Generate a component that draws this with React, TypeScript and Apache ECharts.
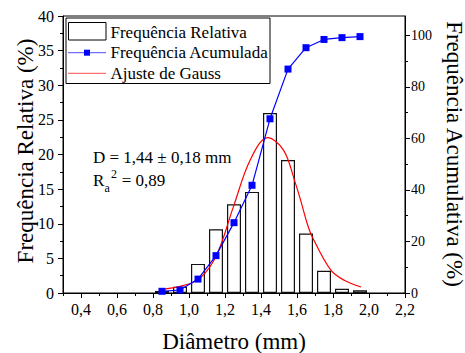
import React, { useEffect, useRef } from "react";
import * as echarts from "echarts";

// ---- data ----
const binCenters = [0.85, 0.95, 1.05, 1.15, 1.25, 1.35, 1.45, 1.55, 1.65, 1.75, 1.85, 1.95];
const relFreq = [0.3, 0.9, 4.2, 9.2, 12.8, 14.6, 26.0, 19.2, 8.6, 3.2, 0.6, 0.4];
const cumFreq = [0.66, 1.17, 5.4, 14.5, 27.3, 41.8, 67.6, 86.9, 95.2, 98.4, 99.1, 99.5];
const gaussX = [0.854, 0.966, 1.059, 1.153, 1.246, 1.34, 1.437, 1.526, 1.592, 1.62, 1.657, 1.685, 1.788, 1.862, 1.956];
const gaussY = [0.53, 1.07, 2.08, 5.45, 12.4, 19.2, 22.45, 20.6, 15.8, 13.4, 10.0, 8.1, 3.3, 1.84, 0.87];
const xMajorTicks = [0.4, 0.6, 0.8, 1.0, 1.2, 1.4, 1.6, 1.8, 2.0, 2.2];
const xMinorTicks = [0.3, 0.5, 0.7, 0.9, 1.1, 1.3, 1.5, 1.7, 1.9, 2.1];
const rightMajorTicks = [0, 20, 40, 60, 80, 100];
const rightMinorTicks = [10, 30, 50, 70, 90];

const legendNames = ["Frequência Relativa", "Frequência Acumulada", "Ajuste de Gauss"];
const FONT = "'Liberation Serif', 'Times New Roman', serif";

export default function App() {
  const ref = useRef<HTMLDivElement>(null);
  useEffect(() => {
    if (!ref.current) return;
    const chart = echarts.init(ref.current, undefined, { renderer: "svg" });
    const axisCommon = {
      axisLine: { show: true, lineStyle: { color: "#000", width: 1 } },
      axisTick: { show: true, inside: false, length: 5, lineStyle: { color: "#000" } },
      splitLine: { show: false },
    };
    const option: any = {
      animation: false,
      backgroundColor: "#fff",
      textStyle: { fontFamily: FONT },
      grid: {
        left: 63, right: 60, top: 16, bottom: 60,
        show: true, borderColor: "#000", borderWidth: 1, backgroundColor: "transparent",
      },
      xAxis: [
        {
          type: "value", min: 0.3, max: 2.2, position: "bottom",
          ...axisCommon,
          axisTick: { show: true, length: 5, lineStyle: { color: "#000" }, customValues: xMajorTicks },
          axisLabel: {
            customValues: xMajorTicks, margin: 8, color: "#000", fontSize: 16, fontFamily: FONT,
            formatter: (v: number) => v.toFixed(1).replace(".", ","),
          },
        },
        {
          type: "value", min: 0.3, max: 2.2, position: "bottom",
          axisLine: { show: false },
          axisTick: { show: true, length: 3, lineStyle: { color: "#000" }, customValues: xMinorTicks },
          axisLabel: { show: false },
          splitLine: { show: false },
        },
      ],
      yAxis: [
        {
          type: "value", min: 0, max: 40, interval: 5, position: "left",
          ...axisCommon,
          minorTick: { show: true, splitNumber: 2, length: 3, lineStyle: { color: "#000" } },
          axisLabel: { margin: 9, color: "#000", fontSize: 16, fontFamily: FONT },
        },
        {
          type: "value", min: 0, max: 107.5, position: "right",
          ...axisCommon,
          axisTick: { show: true, length: 5, lineStyle: { color: "#000" }, customValues: rightMajorTicks },
          axisLabel: { customValues: rightMajorTicks, margin: 6, color: "#000", fontSize: 14, fontFamily: FONT },
        },
        {
          type: "value", min: 0, max: 107.5, position: "right",
          axisLine: { show: false },
          axisTick: { show: true, length: 3, lineStyle: { color: "#000" }, customValues: rightMinorTicks },
          axisLabel: { show: false },
          splitLine: { show: false },
        },
      ],
      series: [
        {
          name: legendNames[0], type: "bar", xAxisIndex: 0, yAxisIndex: 0,
          barWidth: 14,
          data: binCenters.map((x, i) => [x, relFreq[i]]),
          itemStyle: { color: "rgba(255,255,255,0)", borderColor: "#111", borderWidth: 1.2 },
        },
        {
          name: legendNames[2], type: "line", xAxisIndex: 0, yAxisIndex: 0,
          smooth: 0.35, symbol: "none",
          data: gaussX.map((x, i) => [x, gaussY[i]]),
          lineStyle: { color: "#ff0000", width: 1.2 },
          itemStyle: { color: "#ff0000" },
        },
        {
          name: legendNames[1], type: "line", xAxisIndex: 0, yAxisIndex: 1,
          symbol: "rect", symbolSize: 7,
          data: binCenters.map((x, i) => [x, cumFreq[i]]),
          lineStyle: { color: "#0000ff", width: 1.2 },
          itemStyle: { color: "#0000ff" },
        },
      ],
      graphic: [
        // legend box
        { type: "rect", shape: { x: 66, y: 18, width: 204, height: 65.5 }, style: { fill: "#fff", stroke: "#000", lineWidth: 1 }, z: 10 },
        { type: "rect", shape: { x: 68.5, y: 22.5, width: 37.5, height: 17.5 }, style: { fill: "#fff", stroke: "#000", lineWidth: 1 }, z: 11 },
        { type: "line", shape: { x1: 68, y1: 52.7, x2: 106, y2: 52.7 }, style: { stroke: "#6f6fff", lineWidth: 1.3 }, z: 11 },
        { type: "rect", shape: { x: 84, y: 49.7, width: 6, height: 6 }, style: { fill: "#0000ff" }, z: 12 },
        { type: "line", shape: { x1: 68, y1: 73.3, x2: 106, y2: 73.3 }, style: { stroke: "#ff7070", lineWidth: 1.3 }, z: 11 },
        { type: "text", x: 110.5, y: 32, style: { text: legendNames[0], font: `17px ${FONT}`, fill: "#000", verticalAlign: "middle" }, z: 12 },
        { type: "text", x: 110.5, y: 52.5, style: { text: legendNames[1], font: `17px ${FONT}`, fill: "#000", verticalAlign: "middle" }, z: 12 },
        { type: "text", x: 110.5, y: 73, style: { text: legendNames[2], font: `17px ${FONT}`, fill: "#000", verticalAlign: "middle" }, z: 12 },
        // annotation
        { type: "text", x: 93, y: 157.5, style: { text: "D = 1,44 ± 0,18 mm", font: `17px ${FONT}`, fill: "#000", verticalAlign: "middle" }, z: 12 },
        { type: "text", x: 93, y: 180.5, style: { text: "R", font: `17px ${FONT}`, fill: "#000", verticalAlign: "middle" }, z: 12 },
        { type: "text", x: 104.6, y: 188, style: { text: "a", font: `12px ${FONT}`, fill: "#000", verticalAlign: "middle" }, z: 12 },
        { type: "text", x: 111, y: 174, style: { text: "2", font: `12px ${FONT}`, fill: "#000", verticalAlign: "middle" }, z: 12 },
        { type: "text", x: 117.5, y: 180.5, style: { text: " = 0,89", font: `17px ${FONT}`, fill: "#000", verticalAlign: "middle" }, z: 12 },
        // axis titles
        { type: "text", x: 25, y: 151, rotation: Math.PI / 2, style: { text: "Frequência Relativa (%)", font: `23px ${FONT}`, fill: "#000", align: "center", verticalAlign: "middle" } },
        { type: "text", x: 454, y: 154, rotation: -Math.PI / 2, style: { text: "Frequência Acumulativa (%)", font: `23px ${FONT}`, fill: "#000", align: "center", verticalAlign: "middle" } },
        { type: "text", x: 234, y: 341, style: { text: "Diâmetro (mm)", font: `23px ${FONT}`, fill: "#000", align: "center", verticalAlign: "middle" } },
      ],
    };
    chart.setOption(option);
    return () => chart.dispose();
  }, []);
  return (
    <div
      ref={ref}
      style={{ position: "fixed", left: 0, top: 0, width: 465, height: 353, background: "#fff" }}
    />
  );
}
